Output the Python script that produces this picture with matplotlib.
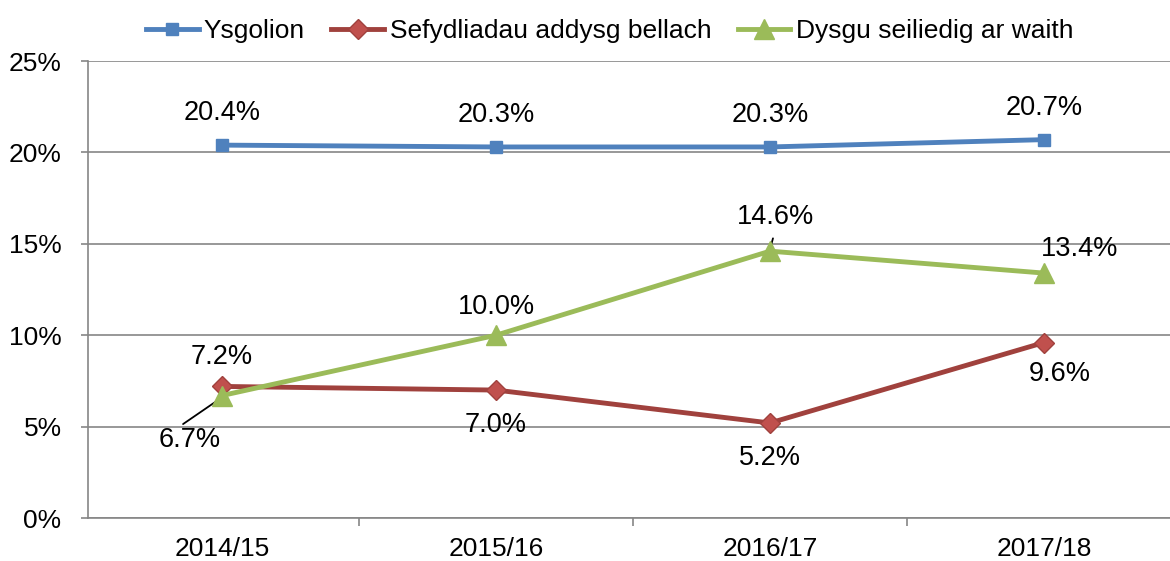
import matplotlib.pyplot as plt
import numpy as np

plt.rcParams['font.family'] = ['Liberation Sans', 'DejaVu Sans']

years = ['2014/15', '2015/16', '2016/17', '2017/18']
ysgolion = [20.4, 20.3, 20.3, 20.7]
sefydliadau = [7.2, 7.0, 5.2, 9.6]
dysgu = [6.7, 10.0, 14.6, 13.4]

fig = plt.figure(figsize=(11.7, 5.61), dpi=100)
ax = fig.add_axes([0.0752, 0.0766, 0.9248, 0.8146])
x = np.arange(len(years))

ax.plot(x, ysgolion, color='#4F81BD', lw=3.5, marker='s', ms=8,
        mfc='#4F81BD', mec='#4F81BD', label='Ysgolion', zorder=3)
ax.plot(x, sefydliadau, color='#A0413D', lw=3.5, marker='D', ms=10,
        mfc='#C0504D', mec='#A0413D', label='Sefydliadau addysg bellach', zorder=3)
ax.plot(x, dysgu, color='#9BBB59', lw=3.5, marker='^', ms=14,
        mfc='#9BBB59', mec='#9BBB59', label='Dysgu seiliedig ar waith', zorder=4)

fs = 19.5
# Ysgolion labels above
for i, v in enumerate(ysgolion):
    ax.text(i, v + 1.75, f'{v:.1f}%', ha='center', va='center', fontsize=fs)
# Sefydliadau labels
ax.text(0, sefydliadau[0] + 1.6, f'{sefydliadau[0]:.1f}%', ha='center', va='center', fontsize=fs)
ax.text(1, sefydliadau[1] - 1.9, f'{sefydliadau[1]:.1f}%', ha='center', va='center', fontsize=fs)
ax.text(2, sefydliadau[2] - 1.92, f'{sefydliadau[2]:.1f}%', ha='center', va='center', fontsize=fs)
ax.text(3.058, sefydliadau[3] - 1.72, f'{sefydliadau[3]:.1f}%', ha='center', va='center', fontsize=fs)
# Dysgu labels
ax.text(-0.117, 4.27, f'{dysgu[0]:.1f}%', ha='center', va='center', fontsize=fs)
ax.annotate('', xy=(0, dysgu[0] - 0.1), xytext=(-0.142, 5.14),
            arrowprops=dict(arrowstyle='-', color='black', lw=1.3, shrinkA=0, shrinkB=0))
ax.text(1, dysgu[1] + 1.54, f'{dysgu[1]:.1f}%', ha='center', va='center', fontsize=fs)
ax.text(2.02, dysgu[2] + 1.87, f'{dysgu[2]:.1f}%', ha='center', va='center', fontsize=fs)
ax.annotate('', xy=(2, dysgu[2] + 0.1), xytext=(2.011, 15.3),
            arrowprops=dict(arrowstyle='-', color='black', lw=1.3, shrinkA=0, shrinkB=0))
ax.text(3.13, dysgu[3] + 1.3, f'{dysgu[3]:.1f}%', ha='center', va='center', fontsize=fs)

ax.set_yticks(np.arange(0, 26, 5))
ax.set_yticklabels([f'{t}%' for t in range(0, 26, 5)], fontsize=19)
ax.set_ylim(0, 25)
ax.set_xticks(x)
ax.set_xticklabels(years, fontsize=19)
ax.set_xticks(np.arange(-0.5, 3.0, 1), minor=True)
ax.set_xlim(-0.489, 3.46)
ax.tick_params(axis='x', which='major', length=0, pad=14)
ax.tick_params(axis='x', which='minor', length=5.5, color='#868686', width=1.2)
ax.tick_params(axis='y', length=5, color='#868686', width=1.2, pad=14)
ax.yaxis.grid(True, color='#868686', lw=1.2)
ax.set_axisbelow(True)
for s in ['top', 'right']:
    ax.spines[s].set_visible(False)
for s in ['left', 'bottom']:
    ax.spines[s].set_color('#868686')
    ax.spines[s].set_linewidth(1.2)

ax.legend(loc='center', bbox_to_anchor=(0.482, 1.066), ncol=3, frameon=False,
          fontsize=19, handlelength=2.0, columnspacing=1.0, handletextpad=0.2)

fig.savefig('out.png', dpi=100)
